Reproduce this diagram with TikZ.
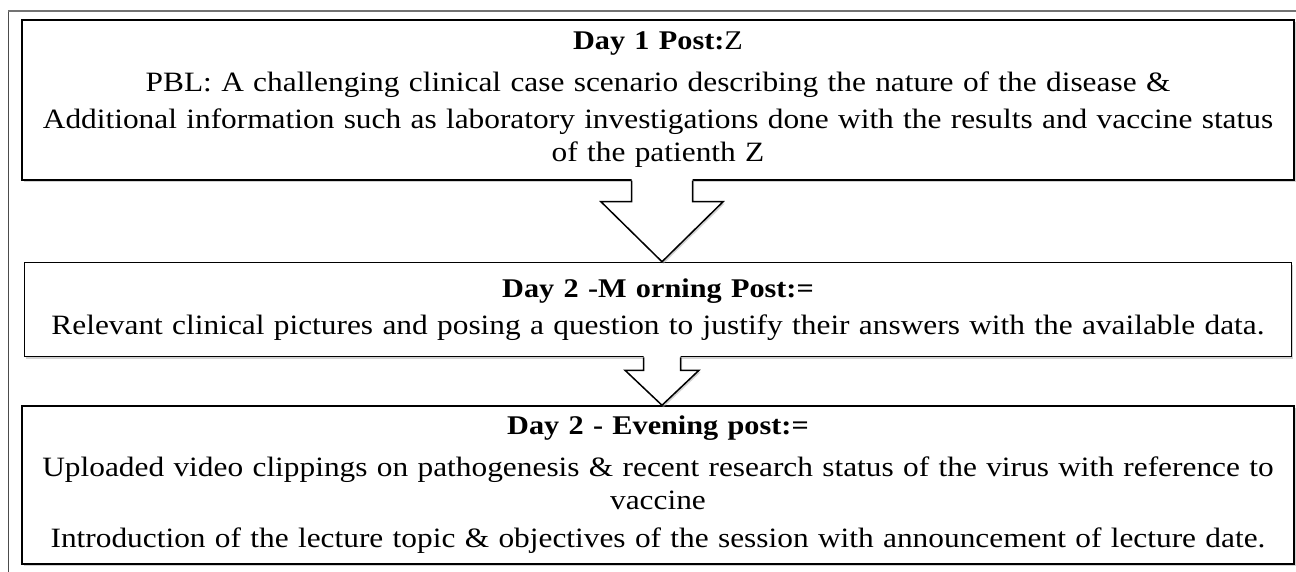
\documentclass[tikz,border=0pt]{standalone}
\usepackage{fontspec}
\setmainfont{Liberation Serif}[FakeStretch=1.12]
\usetikzlibrary{positioning, calc, shadows}

\newcommand{\posthead}[2]{{\fontsize{27}{33}\selectfont\textbf{#1}#2}}

\begin{document}
\begin{tikzpicture}[x=1pt, y=-1pt,
    post/.style={draw, line width=1.5pt, fill=white, align=center, inner sep=0pt,
                 text width=1260pt, font=\fontsize{28}{33}\selectfont,
                 drop shadow={shadow xshift=1.5pt, shadow yshift=-2pt, fill=black!35}},
    blockfill/.style={fill=white,
                 drop shadow={shadow xshift=1.5pt, shadow yshift=-2pt, fill=black!35}},
    blockline/.style={line width=1.5pt, line join=miter},
  ]
  \useasboundingbox (0,0) rectangle (1296,572);

  % page frame
  \draw[black!70, line width=1pt] (8,11) -- (8,572);
  \draw[black!55, line width=2pt] (8,11) -- (1296,11);

  \node[post, minimum width=1272pt, minimum height=160pt] (day1) at (658,100)
    {\posthead{Day 1 Post:}{Z}\\[9pt]
     PBL: A challenging clinical case scenario describing the nature of the disease \&\\[4pt]
     Additional information such as laboratory investigations done with the results and vaccine status\\
     of the patienth Z};
  \node[post, below=81pt of day1, minimum width=1267pt, minimum height=94pt] (day2am)
    {\posthead{Day 2 -M orning Post:=}{}\\[4pt]
     Relevant clinical pictures and posing a question to justify their answers with the available data.};
  \node[post, below=48pt of day2am, minimum width=1272pt, minimum height=158pt] (day2pm)
    {\posthead{Day 2 - Evening post:=}{}\\[9pt]
     Uploaded video clippings on pathogenesis \& recent research status of the virus with reference to\\
     vaccine\\[5pt]
     Introduction of the lecture topic \& objectives of the session with announcement of lecture date.};

  % block arrows
  \coordinate (a1) at ([xshift=4pt]day1.south);
  \path[blockfill] ($(a1)+(-30.5,-2)$) -- ($(a1)+(-30.5,21)$) -- ($(a1)+(-61,21)$)
    -- (a1 |- day2am.north) -- ($(a1)+(61,21)$) -- ($(a1)+(30.5,21)$) -- ($(a1)+(30.5,-2)$) -- cycle;
  \draw[blockline] ($(a1)+(-30.5,0)$) -- ($(a1)+(-30.5,21)$) -- ($(a1)+(-61,21)$)
    -- (a1 |- day2am.north) -- ($(a1)+(61,21)$) -- ($(a1)+(30.5,21)$) -- ($(a1)+(30.5,0)$);

  \coordinate (a2) at ([xshift=4pt]day2am.south);
  \path[blockfill] ($(a2)+(-18.5,-2)$) -- ($(a2)+(-18.5,13)$) -- ($(a2)+(-37,13)$)
    -- (a2 |- day2pm.north) -- ($(a2)+(37,13)$) -- ($(a2)+(18.5,13)$) -- ($(a2)+(18.5,-2)$) -- cycle;
  \draw[blockline] ($(a2)+(-18.5,0)$) -- ($(a2)+(-18.5,13)$) -- ($(a2)+(-37,13)$)
    -- (a2 |- day2pm.north) -- ($(a2)+(37,13)$) -- ($(a2)+(18.5,13)$) -- ($(a2)+(18.5,0)$);
\end{tikzpicture}
\end{document}
